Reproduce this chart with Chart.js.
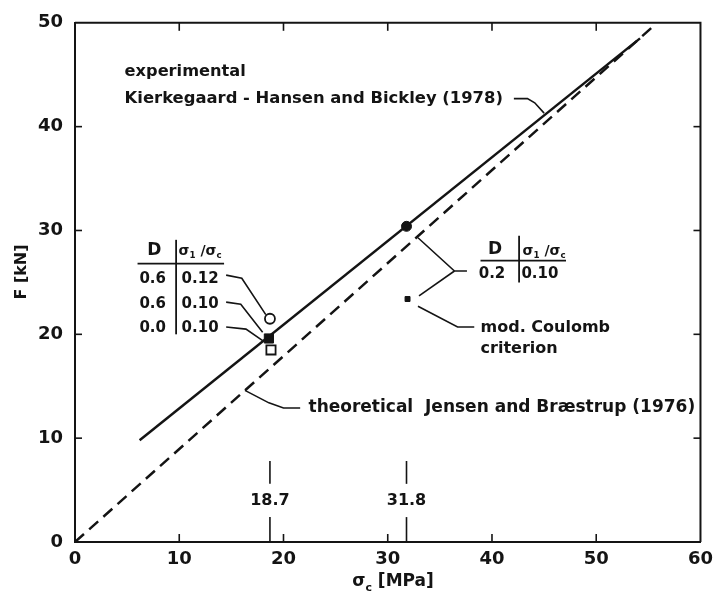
<!DOCTYPE html>
<html><head><meta charset="utf-8">
<script src="https://cdn.jsdelivr.net/npm/chart.js@4.4.1/dist/chart.umd.min.js"></script>
<style>html,body{margin:0;padding:0;background:#fff}canvas{display:block}</style>
</head><body>
<canvas id="c" width="720" height="599"></canvas>
<script>
// ---- data ----
const xTicks = [0, 10, 20, 30, 40, 50, 60];
const yTicks = [0, 10, 20, 30, 40, 50];
// experimental line (Kierkegaard-Hansen and Bickley 1978)
const expLineX = [6.2, 54.2];
const expLineF = [9.8, 48.5];
// theoretical line (Jensen and Braestrup 1976)
const theoLineX = [0, 55.4];
const theoLineF = [0, 49.6];
// test points
const openCircleX = [18.7];   const openCircleF = [21.5];   // D 0.6, 0.12
const filledSqX   = [18.6];   const filledSqF   = [19.6];   // D 0.0, 0.10
const openSqX     = [18.8];   const openSqF     = [18.5];   // D 0.6, 0.10
const filledDotX  = [31.8];   const filledDotF  = [30.4];   // D 0.2, 0.10
const coulombX    = [31.9];   const coulombF    = [23.4];   // mod. Coulomb
const markedStress = [18.7, 31.8];
const markedLabels = ['18.7', '31.8'];
const tableLeftRows = [['0.6', '0.12'], ['0.6', '0.10'], ['0.0', '0.10']];
const tableRightRows = [['0.2', '0.10']];

const pts = (xs, ys) => xs.map((x, i) => ({x, y: ys[i]}));
const INK = '#141414';
const FONT = '"DejaVu Sans", sans-serif';

function drawSigmaRatio(ctx, cx, cy, size) {
  const parts = [
    {t: 'σ', s: size, dy: 0}, {t: '1', s: size * 0.62, dy: size * 0.3},
    {t: ' /', s: size, dy: 0},
    {t: 'σ', s: size, dy: 0}, {t: 'c', s: size * 0.62, dy: size * 0.3}
  ];
  let w = 0;
  parts.forEach(p => { ctx.font = 'bold ' + p.s + 'px ' + FONT; p.w = ctx.measureText(p.t).width; w += p.w; });
  let x = cx - w / 2;
  ctx.textAlign = 'left'; ctx.textBaseline = 'middle';
  parts.forEach(p => { ctx.font = 'bold ' + p.s + 'px ' + FONT; ctx.fillText(p.t, x, cy + p.dy); x += p.w; });
}

const overlay = {
  id: 'overlay',
  beforeDatasetsDraw(chart) {
    const {ctx, chartArea: a, scales: {x, y}} = chart;
    ctx.save();
    ctx.strokeStyle = INK; ctx.lineWidth = 2;
    // top and right frame
    ctx.beginPath();
    ctx.moveTo(a.left, a.top); ctx.lineTo(a.right, a.top); ctx.lineTo(a.right, a.bottom);
    ctx.stroke();
    // inward ticks
    ctx.lineWidth = 1.6;
    xTicks.slice(1, -1).forEach(v => {
      const px = x.getPixelForValue(v);
      ctx.beginPath(); ctx.moveTo(px, a.bottom); ctx.lineTo(px, a.bottom - 8); ctx.stroke();
      ctx.beginPath(); ctx.moveTo(px, a.top); ctx.lineTo(px, a.top + 8); ctx.stroke();
    });
    yTicks.slice(1, -1).forEach(v => {
      const py = y.getPixelForValue(v);
      ctx.beginPath(); ctx.moveTo(a.left, py); ctx.lineTo(a.left + 7, py); ctx.stroke();
      ctx.beginPath(); ctx.moveTo(a.right, py); ctx.lineTo(a.right - 7, py); ctx.stroke();
    });
    // marked stresses
    markedStress.forEach((s, i) => {
      const px = x.getPixelForValue(s);
      ctx.lineWidth = 1.6;
      ctx.beginPath(); ctx.moveTo(px, y.getPixelForValue(0)); ctx.lineTo(px, y.getPixelForValue(2.4)); ctx.stroke();
      ctx.beginPath(); ctx.moveTo(px, y.getPixelForValue(5.6)); ctx.lineTo(px, y.getPixelForValue(7.8)); ctx.stroke();
      ctx.fillStyle = INK; ctx.font = 'bold 16px ' + FONT; ctx.textAlign = 'center'; ctx.textBaseline = 'middle';
      ctx.fillText(markedLabels[i], px, y.getPixelForValue(4.0));
    });
    ctx.restore();
  },
  afterDraw(chart) {
    const {ctx, scales: {x, y}} = chart;
    const X = v => x.getPixelForValue(v), Y = v => y.getPixelForValue(v);
    ctx.save();
    ctx.fillStyle = INK; ctx.strokeStyle = INK;
    const text = (t, vx, vy, size, align) => {
      ctx.font = 'bold ' + size + 'px ' + FONT; ctx.textAlign = align || 'left'; ctx.textBaseline = 'middle';
      ctx.fillText(t, X(vx), Y(vy));
    };
    const poly = (arr, lw) => {
      ctx.lineWidth = lw || 1.6; ctx.beginPath();
      arr.forEach(([vx, vy], i) => i ? ctx.lineTo(X(vx), Y(vy)) : ctx.moveTo(X(vx), Y(vy)));
      ctx.stroke();
    };
    // axis titles
    ctx.font = 'bold 16px ' + FONT; ctx.textAlign = 'center'; ctx.textBaseline = 'middle';
    ctx.save(); ctx.translate(22, 272); ctx.rotate(-Math.PI / 2);
    ctx.fillText('F [kN]', 0, 0); ctx.restore();
    (function drawTitleX() {
      const cx = 393, cy = 582;
      ctx.font = 'bold 17px ' + FONT;
      const w1 = ctx.measureText('σ').width;
      ctx.font = 'bold 11px ' + FONT;
      const w2 = ctx.measureText('c').width;
      ctx.font = 'bold 17px ' + FONT;
      const w3 = ctx.measureText(' [MPa]').width;
      let sx = cx - (w1 + w2 + w3) / 2;
      ctx.textAlign = 'left';
      ctx.fillText('σ', sx, cy); sx += w1;
      ctx.font = 'bold 11px ' + FONT; ctx.fillText('c', sx, cy + 6); sx += w2;
      ctx.font = 'bold 17px ' + FONT; ctx.fillText(' [MPa]', sx, cy);
    })();
    // top-left labels
    text('experimental', 4.76, 45.3, 16.2);
    text('Kierkegaard - Hansen and Bickley (1978)', 4.76, 42.7, 16.4);
    poly([[42.1, 42.7], [43.4, 42.7], [44.1, 42.3], [45.0, 41.3]]);
    // theoretical label
    text('theoretical  Jensen and Bræstrup (1976)', 22.4, 12.9, 17);
    poly([[21.6, 12.9], [20.0, 12.9], [18.6, 13.4], [16.3, 14.6]]);
    // left table
    text('D', 7.6, 28.1, 17, 'center');
    drawSigmaRatio(ctx, X(12.0), Y(28.0), 14);
    poly([[6.0, 26.8], [14.3, 26.8]], 1.8);
    poly([[9.7, 29.1], [9.7, 20.0]], 1.8);
    const rowF = [25.3, 22.9, 20.6];
    tableLeftRows.forEach((r, i) => {
      text(r[0], 7.45, rowF[i], 15, 'center');
      text(r[1], 12.0, rowF[i], 15, 'center');
    });
    poly([[14.5, 25.7], [16.0, 25.4], [18.3, 21.9]]);
    poly([[14.5, 23.1], [15.9, 22.9], [18.0, 20.2]]);
    poly([[14.5, 20.7], [16.4, 20.5], [18.0, 19.4]]);
    // right table
    text('D', 40.3, 28.2, 17, 'center');
    drawSigmaRatio(ctx, X(45.0), Y(28.0), 14);
    poly([[38.9, 27.1], [47.1, 27.1]], 1.8);
    poly([[42.6, 29.5], [42.6, 25.0]], 1.8);
    text(tableRightRows[0][0], 40.0, 25.8, 15, 'center');
    text(tableRightRows[0][1], 44.6, 25.8, 15, 'center');
    poly([[32.9, 29.3], [36.4, 26.1], [37.6, 26.1]]);
    poly([[36.4, 26.1], [33.0, 23.7]]);
    // mod. Coulomb
    poly([[32.9, 22.7], [36.7, 20.7], [38.3, 20.7]]);
    text('mod. Coulomb', 38.9, 20.65, 16);
    text('criterion', 38.9, 18.6, 16);
    ctx.restore();
  }
};

new Chart(document.getElementById('c'), {
  type: 'scatter',
  data: {
    datasets: [
      {data: pts(theoLineX, theoLineF), showLine: true, borderColor: INK, borderWidth: 2.5,
       borderDash: [12, 7], pointRadius: 0},
      {data: pts(expLineX, expLineF), showLine: true, borderColor: INK, borderWidth: 2.5, pointRadius: 0},
      {data: pts(openCircleX, openCircleF), pointStyle: 'circle', pointRadius: 5,
       backgroundColor: '#fff', borderColor: INK, borderWidth: 1.8},
      {data: pts(openSqX, openSqF), pointStyle: 'rect', pointRadius: 6.5,
       backgroundColor: '#fff', borderColor: INK, borderWidth: 1.8},
      {data: pts(filledSqX, filledSqF), pointStyle: 'rect', pointRadius: 6.5,
       backgroundColor: INK, borderColor: INK, borderWidth: 1},
      {data: pts(filledDotX, filledDotF), pointStyle: 'circle', pointRadius: 5,
       backgroundColor: INK, borderColor: INK, borderWidth: 1},
      {data: pts(coulombX, coulombF), pointStyle: 'rect', pointRadius: 3.5,
       backgroundColor: INK, borderColor: INK, borderWidth: 1}
    ]
  },
  options: {
    responsive: false, animation: false,
    layout: {padding: {top: 19, right: 15, left: 0, bottom: 0}},
    plugins: {legend: {display: false}, tooltip: {enabled: false}},
    scales: {
      x: {
        type: 'linear', min: 0, max: 60,
        afterBuildTicks: s => { s.ticks = xTicks.map(v => ({value: v})); },
        afterFit: s => { s.height = 57; },
        grid: {display: false, drawTicks: false},
        border: {display: true, color: INK, width: 2},
        ticks: {color: INK, padding: 7, font: {family: 'DejaVu Sans', size: 18, weight: 'bold'}, maxRotation: 0}
      },
      y: {
        type: 'linear', min: 0, max: 50,
        afterBuildTicks: s => { s.ticks = yTicks.map(v => ({value: v})); },
        afterFit: s => { s.width = 75; },
        grid: {display: false, drawTicks: false},
        border: {display: true, color: INK, width: 2},
        ticks: {color: INK, padding: 12, font: {family: 'DejaVu Sans', size: 18, weight: 'bold'}}
      }
    }
  },
  plugins: [overlay]
});
</script>
</body></html>
